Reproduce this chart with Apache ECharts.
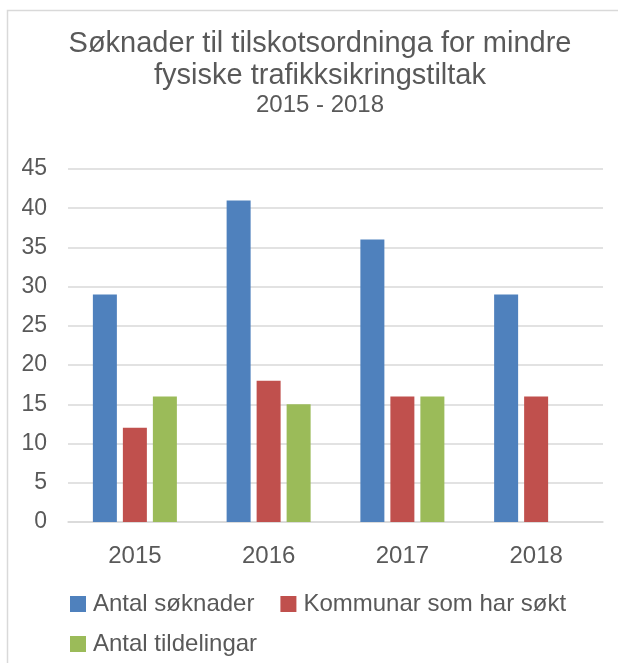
<!DOCTYPE html>
<html>
<head>
<meta charset="UTF-8">
<title>Søknader</title>
<script src="https://cdn.jsdelivr.net/npm/echarts@6/dist/echarts.min.js"></script>
<style>
  html, body{
    margin:0;
    padding:0;
    background:#fff;
  }
  #chart{
    width:618px;
    height:663px;
  }
</style>
</head>
<body>
<div id="chart"></div>
<script>
// data
var years = ['2015', '2016', '2017', '2018'];
var soknader = [29, 41, 36, 29];
var kommunar = [12, 18, 16, 16];
var tildelingar = [16, 15, 16, null];
var yTicks = [0, 5, 10, 15, 20, 25, 30, 35, 40, 45];
var names = ['Antal søknader', 'Kommunar som har søkt', 'Antal tildelingar'];

var font = '"Liberation Sans", Arial, sans-serif';
var grey = '#595959';

// legend look, shared by both rows
function legendRow(top, items){
  return {
    left: 65,
    top: top,
    itemWidth: 16,
    itemHeight: 16,
    itemGap: 26,
    icon: 'rect',
    textStyle: {
      fontFamily: font,
      fontSize: 24,
      color: grey,
      padding: [0, 0, 0, 2]
    },
    data: items
  };
}

var chart = echarts.init(document.getElementById('chart'));
var option = {
  animation: false,
  textStyle: { fontFamily: font },
  // frame round the chart area (top and left edge visible)
  graphic: [{
    type: 'rect',
    shape: { x: 7.5, y: 10.5, width: 800, height: 800 },
    style: { fill: 'none', stroke: '#d9d9d9', lineWidth: 1.5 },
    silent: true
  }],
  title: {
    text: 'Søknader til tilskotsordninga for mindre\nfysiske trafikksikringstiltak',
    subtext: '2015 - 2018',
    left: 315,
    textAlign: 'center',
    top: 23,
    itemGap: 1,
    textStyle: {
      fontFamily: font,
      fontSize: 29,
      fontWeight: 'normal',
      color: grey,
      lineHeight: 32
    },
    subtextStyle: {
      fontFamily: font,
      fontSize: 24,
      color: grey
    }
  },
  legend: [
    legendRow(587, names.slice(0, 2)),
    legendRow(627, names.slice(2))
  ],
  grid: {
    left: 68,
    right: 15,
    top: 169,
    bottom: 141
  },
  xAxis: {
    type: 'category',
    data: years,
    axisLine: { lineStyle: { color: '#d9d9d9', width: 1.5 } },
    axisTick: { show: false },
    axisLabel: {
      fontFamily: font,
      fontSize: 24,
      color: grey,
      margin: 22
    }
  },
  yAxis: {
    type: 'value',
    min: yTicks[0],
    max: yTicks[yTicks.length - 1],
    interval: 5,
    axisLine: { show: false },
    axisTick: { show: false },
    splitLine: { lineStyle: { color: '#d9d9d9', width: 1.5 } },
    axisLabel: {
      fontFamily: font,
      fontSize: 23,
      color: grey,
      margin: 21
    }
  },
  series: [
    {
      name: names[0],
      type: 'bar',
      data: soknader,
      barWidth: 24,
      barGap: '25%',
      itemStyle: { color: '#4F81BD' }
    },
    {
      name: names[1],
      type: 'bar',
      data: kommunar,
      barWidth: 24,
      barGap: '25%',
      itemStyle: { color: '#C0504D' }
    },
    {
      name: names[2],
      type: 'bar',
      data: tildelingar,
      barWidth: 24,
      barGap: '25%',
      itemStyle: { color: '#9BBB59' }
    }
  ]
};
chart.setOption(option);
</script>
</body>
</html>
